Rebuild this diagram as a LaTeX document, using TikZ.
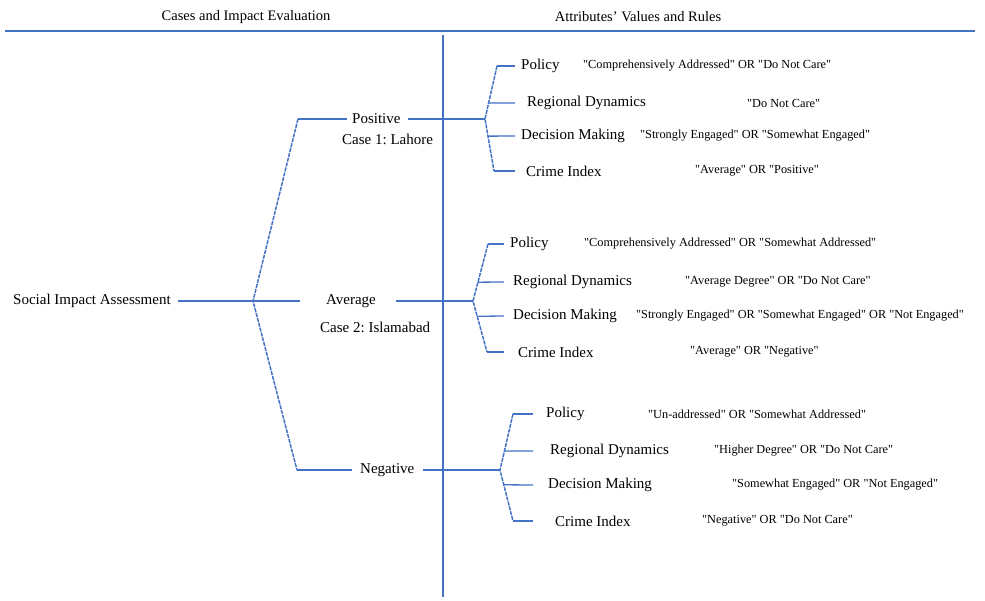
\documentclass[tikz,border=0pt]{standalone}
\usepackage{fontspec}
\setmainfont{Liberation Serif}
\usetikzlibrary{calc}
\definecolor{treeblue}{RGB}{68,114,196}
\newcommand{\qt}[1]{\textquotedbl#1\textquotedbl}
\frenchspacing
\begin{document}
\begin{tikzpicture}[x=1pt,y=-1pt,
  lbl/.style={inner sep=0pt,anchor=west,font=\fontsize{15}{17}\selectfont},
  head/.style={inner sep=0pt,font=\fontsize{14.5}{17}\selectfont},
  val/.style={inner sep=0pt,anchor=west,font=\fontsize{12.3}{14}\selectfont},
  hline/.style={treeblue,line width=1.3pt},
  slant/.style={treeblue,line width=1.5pt,dash pattern=on 4pt off 1pt}]
\useasboundingbox (0,0) rectangle (985,601);
% headings and dividers
\node[head] (hcase) at (246,17) {Cases and Impact Evaluation};
\node[head] (hattr) at (638,17) {Attributes' Values and Rules};
\coordinate (hl) at (5,31);
\coordinate (hr) at (975,31);
\draw[treeblue,line width=2.5pt] (hl) -- (hr);
\coordinate (vt) at (443,35);
\coordinate (vb) at (443,597);
\draw[treeblue,line width=1.8pt] (vt) -- (vb);
% root and cases
\node[lbl] (root) at (13,301) {Social Impact Assessment};
\node[lbl] (pos) at (352,119) {Positive};
\node[lbl] (posc) at (342,139) {Case 1: Lahore};
\node[lbl] (avg) at (326,301) {Average};
\node[lbl] (avgc) at (320,327) {Case 2: Islamabad};
\node[lbl] (neg) at (360,470) {Negative};
\coordinate (j0) at (253,301);
\coordinate (c1) at (298,119);
\coordinate (c3) at (297,470);
\draw[slant] (c1) -- (j0) -- (c3);
\draw[hline,shorten <=7pt,shorten >=26pt] (root) -- (avg);
\draw[hline,shorten >=5pt] (c1) -- (pos.west);
\draw[hline,shorten >=8pt] (c3) -- (neg.west);
% case 1
\coordinate (j1) at (485,119);
\coordinate (t1) at (497,66);
\coordinate (b1) at (494,171);
\draw[hline,shorten <=7pt] (pos.east) -- (j1);
\draw[slant] (t1) -- (j1) -- (b1);
\node[lbl] (pol1) at (521,66) {Policy};
\node[lbl] (reg1) at (527,103) {Regional Dynamics};
\node[lbl] (dec1) at (521,136) {Decision Making};
\node[lbl] (cri1) at (526,171) {Crime Index};
\coordinate (e11) at (515,66);
\coordinate (e12) at (515,103);
\coordinate (e13) at (515,136);
\coordinate (e14) at (515,171);
\draw[hline] (t1) -- (e11);
\draw[hline] ($(t1)!0.7!(j1)$) -- (e12);
\draw[hline] ($(j1)!0.33!(b1)$) -- (e13);
\draw[hline] (b1) -- (e14);
\node[val] (vpol1) at (583,66) {\qt{Comprehensively Addressed} OR \qt{Do Not Care}};
\node[val] (vreg1) at (747,103) {\qt{Do Not Care}};
\node[val] (vdec1) at (640,136) {\qt{Strongly Engaged} OR \qt{Somewhat Engaged}};
\node[val] (vcri1) at (695,171) {\qt{Average} OR \qt{Positive}};
% case 2
\coordinate (j2) at (473,301);
\coordinate (t2) at (488,244);
\coordinate (b2) at (487,352);
\draw[hline,shorten <=20pt] (avg.east) -- (j2);
\draw[slant] (t2) -- (j2) -- (b2);
\node[lbl] (pol2) at (510,244) {Policy};
\node[lbl] (reg2) at (513,282) {Regional Dynamics};
\node[lbl] (dec2) at (513,316) {Decision Making};
\node[lbl] (cri2) at (518,352) {Crime Index};
\coordinate (e21) at (504,244);
\coordinate (e22) at (504,282);
\coordinate (e23) at (504,316);
\coordinate (e24) at (504,352);
\draw[hline] (t2) -- (e21);
\draw[hline] ($(t2)!0.67!(j2)$) -- (e22);
\draw[hline] ($(j2)!0.3!(b2)$) -- (e23);
\draw[hline] (b2) -- (e24);
\node[val] (vpol2) at (584,244) {\qt{Comprehensively Addressed} OR \qt{Somewhat Addressed}};
\node[val] (vreg2) at (685,282) {\qt{Average Degree} OR \qt{Do Not Care}};
\node[val] (vdec2) at (636,316) {\qt{Strongly Engaged} OR \qt{Somewhat Engaged} OR \qt{Not Engaged}};
\node[val] (vcri2) at (690,352) {\qt{Average} OR \qt{Negative}};
% case 3
\coordinate (j3) at (500,470);
\coordinate (t3) at (513,414);
\coordinate (b3) at (513,521);
\draw[hline,shorten <=8pt] (neg.east) -- (j3);
\draw[slant] (t3) -- (j3) -- (b3);
\node[lbl] (pol3) at (546,414) {Policy};
\node[lbl] (reg3) at (550,451) {Regional Dynamics};
\node[lbl] (dec3) at (548,485) {Decision Making};
\node[lbl] (cri3) at (555,521) {Crime Index};
\coordinate (e31) at (533,414);
\coordinate (e32) at (533,451);
\coordinate (e33) at (533,485);
\coordinate (e34) at (533,521);
\draw[hline] (t3) -- (e31);
\draw[hline] ($(t3)!0.66!(j3)$) -- (e32);
\draw[hline] ($(j3)!0.29!(b3)$) -- (e33);
\draw[hline] (b3) -- (e34);
\node[val] (vpol3) at (648,414) {\qt{Un-addressed} OR \qt{Somewhat Addressed}};
\node[val] (vreg3) at (714,451) {\qt{Higher Degree} OR \qt{Do Not Care}};
\node[val] (vdec3) at (732,485) {\qt{Somewhat Engaged} OR \qt{Not Engaged}};
\node[val] (vcri3) at (702,521) {\qt{Negative} OR \qt{Do Not Care}};
\end{tikzpicture}
\end{document}
